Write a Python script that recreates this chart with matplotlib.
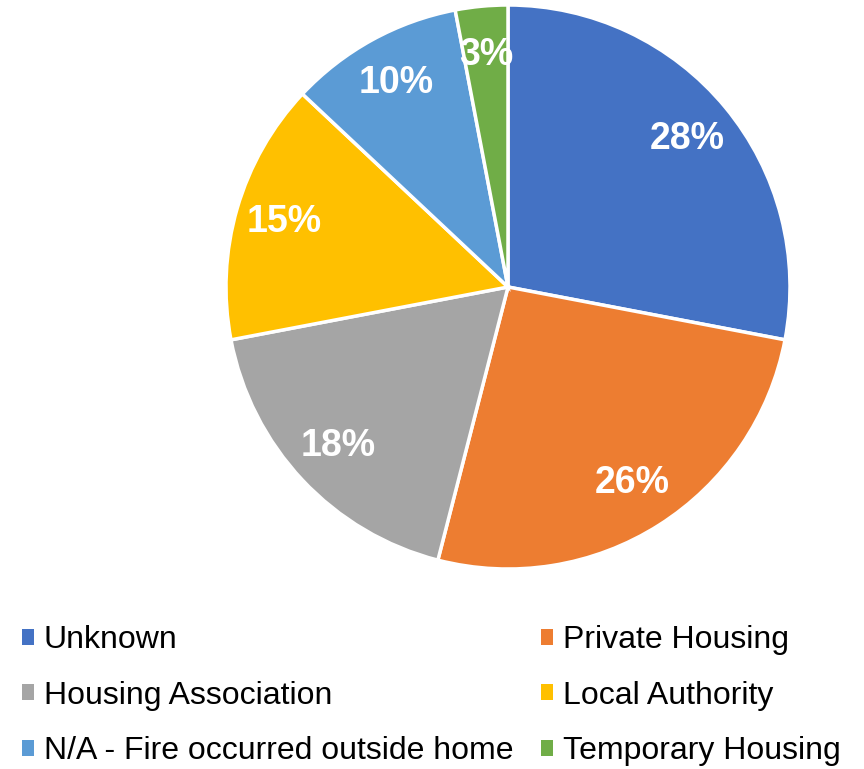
import matplotlib.pyplot as plt
from matplotlib.patches import Patch

plt.rcParams['font.family'] = ['Liberation Sans', 'DejaVu Sans']

# Fire location housing type shares (%)
categories = ['Unknown', 'Private Housing', 'Housing Association',
              'Local Authority', 'N/A - Fire occurred outside home',
              'Temporary Housing']
shares = [28, 26, 18, 15, 10, 3]
colors = ['#4472C4', '#ED7D31', '#A5A5A5', '#FFC000', '#5B9BD5', '#70AD47']

fig = plt.figure(figsize=(8.64, 7.69), dpi=100)
W, H = 864, 769
cx, cy, r = 508, 287, 282
ax = fig.add_axes([(cx - r) / W, (H - cy - r) / H, 2 * r / W, 2 * r / H])

wedges, texts, autotexts = ax.pie(
    shares, colors=colors, startangle=90, counterclock=False,
    autopct='%1.0f%%', pctdistance=0.825,
    wedgeprops=dict(edgecolor='white', linewidth=2.5),
    textprops=dict(color='white', fontsize=27, fontweight='bold'))
ax.set_xlim(-1, 1)
ax.set_ylim(-1, 1)
ax.set_aspect('equal')

# legend laid out row by row like the original
col_major = [0, 2, 4, 1, 3, 5]
handles = [Patch(facecolor=colors[i]) for i in col_major]
labels = [categories[i] for i in col_major]
fig.legend(handles, labels, ncol=2, loc='upper left',
           bbox_to_anchor=(0.025, 0.187), frameon=False, fontsize=23,
           handlelength=0.4, handleheight=0.4, handletextpad=0.3,
           columnspacing=0.85, labelspacing=0.8,
           borderaxespad=0, borderpad=0)

fig.savefig('out.png', dpi=100)
